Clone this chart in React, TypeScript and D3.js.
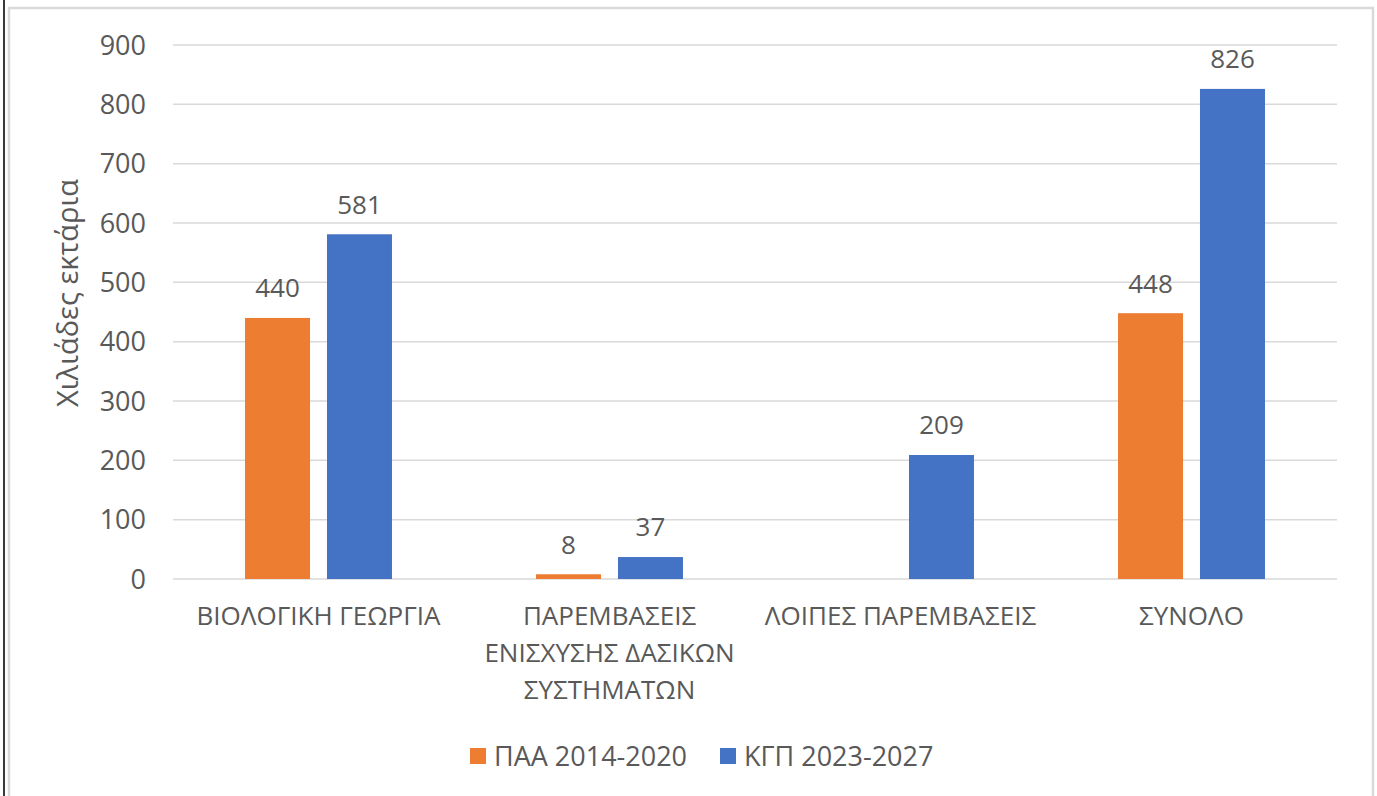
import React from "react";
import * as d3 from "d3";

// ── Data ──────────────────────────────────────────────────────────────────────
const CATEGORIES = [
  ["ΒΙΟΛΟΓΙΚΗ ΓΕΩΡΓΙΑ"],
  ["ΠΑΡΕΜΒΑΣΕΙΣ", "ΕΝΙΣΧΥΣΗΣ ΔΑΣΙΚΩΝ", "ΣΥΣΤΗΜΑΤΩΝ"],
  ["ΛΟΙΠΕΣ ΠΑΡΕΜΒΑΣΕΙΣ"],
  ["ΣΥΝΟΛΟ"],
];
const SERIES = ["ΠΑΑ 2014-2020", "ΚΓΠ 2023-2027"];
const PAA: (number | null)[] = [440, 8, null, 448];
const KGP: (number | null)[] = [581, 37, 209, 826];
const Y_TICKS = [0, 100, 200, 300, 400, 500, 600, 700, 800, 900];

const COLORS = ["#ED7D31", "#4472C4"];
const TEXT = "#595959";
const FONT = "'Open Sans', 'Noto Sans', sans-serif";
const FS = 26;

const W = 1377;
const H = 796;
const M = { left: 173, right: 1337, top: 45, bottom: 579 };

export default function App() {
  const values = [PAA, KGP];
  const idx = CATEGORIES.map((_, i) => String(i));

  // group bands: bar pair ~147px inside a 291px step
  const x0 = d3
    .scaleBand<string>()
    .domain(idx)
    .range([M.left, M.right])
    .paddingInner(0.495)
    .paddingOuter(0.2475);
  const x1 = d3
    .scaleBand<string>()
    .domain(SERIES)
    .range([0, x0.bandwidth()])
    .paddingInner(0.207);
  const y = d3.scaleLinear().domain([0, 900]).range([M.bottom, M.top]);

  return (
    <svg
      width={W}
      height={H}
      style={{ position: "absolute", left: 0, top: 0, background: "#fff" }}
      fontFamily={FONT}
    >
      {/* frame */}
      <line x1={4} x2={4} y1={0} y2={H} stroke="#3a3a3a" strokeWidth={2} />
      <path d={`M9,${H} V8 H1373 V${H}`} fill="none" stroke="#d9d9d9" strokeWidth={2.5} />

      {/* grid + y ticks */}
      {Y_TICKS.map((t) => (
        <g key={t}>
          <line x1={M.left} x2={M.right} y1={y(t)} y2={y(t)} stroke="#d9d9d9" strokeWidth={1.5} />
          <text x={146} y={y(t)} dy="0.36em" textAnchor="end" fontSize={27} fill={TEXT}>
            {t}
          </text>
        </g>
      ))}

      {/* y axis title */}
      <text
        transform={`translate(68,293) rotate(-90)`}
        textAnchor="middle"
        dy="0.36em"
        fontSize={29}
        fill={TEXT}
      >
        Χιλιάδες εκτάρια
      </text>

      {/* bars + value labels */}
      {idx.map((c, i) => (
        <g key={c} transform={`translate(${x0(c)},0)`}>
          {SERIES.map((s, j) => {
            const v = values[j][i];
            if (v == null) return null;
            const bx = x1(s)!;
            return (
              <g key={s}>
                <rect
                  x={bx}
                  y={y(v)}
                  width={x1.bandwidth()}
                  height={y(0) - y(v)}
                  fill={COLORS[j]}
                />
                <text
                  x={bx + x1.bandwidth() / 2}
                  y={y(v) - 30}
                  dy="0.36em"
                  textAnchor="middle"
                  fontSize={FS}
                  fill={TEXT}
                >
                  {v}
                </text>
              </g>
            );
          })}
        </g>
      ))}

      {/* category labels */}
      {CATEGORIES.map((lines, i) => {
        const cx = x0(String(i))! + x0.bandwidth() / 2;
        return (
          <text key={i} x={cx} y={616} textAnchor="middle" fontSize={FS} fill={TEXT}>
            {lines.map((l, k) => (
              <tspan key={k} x={cx} dy={k === 0 ? "0.36em" : 37}>
                {l}
              </tspan>
            ))}
          </text>
        );
      })}

      {/* legend */}
      {SERIES.map((s, j) => {
        const lx = j === 0 ? 470 : 720;
        return (
          <g key={s}>
            <rect x={lx} y={748} width={16} height={16} fill={COLORS[j]} />
            <text x={lx + 24} y={756} dy="0.36em" fontSize={27} fill={TEXT}>
              {s}
            </text>
          </g>
        );
      })}
    </svg>
  );
}
